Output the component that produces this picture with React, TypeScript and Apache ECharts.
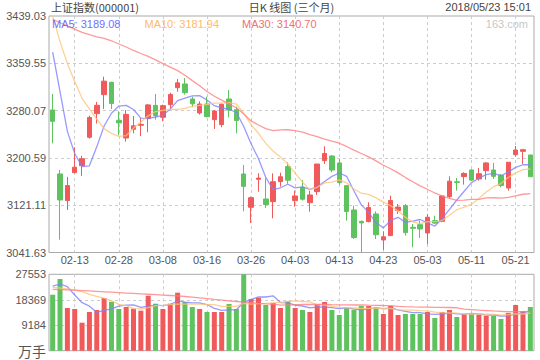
import React, { useEffect, useRef } from "react";
import * as echarts from "echarts";

const dates = [
  "02-08","02-09","02-12","02-13","02-14","02-22","02-23","02-26","02-27","02-28",
  "03-01","03-02","03-05","03-06","03-07","03-08","03-09","03-12","03-13","03-14","03-15","03-16","03-19","03-20","03-21","03-22","03-23","03-26","03-27","03-28","03-29","03-30",
  "04-02","04-03","04-04","04-09","04-10","04-11","04-12","04-13","04-16","04-17","04-18","04-19","04-20","04-23","04-24","04-25","04-26","04-27",
  "05-02","05-03","05-04","05-07","05-08","05-09","05-10","05-11","05-14","05-15","05-16","05-17","05-18","05-21","05-22","05-23",
];

const opens = [
  3281.1,3173.6,3128.8,3175.8,3187.6,3235.2,3275.0,3306.9,3327.6,3263.8,
  3234.1,3248.6,3255.4,3266.6,3288.9,3268.8,3290.1,3318.6,3324.8,3299.6,3276.1,3291.2,3264.9,3256.5,3299.6,3281.7,3173.6,3117.6,3164.6,3131.6,3127.1,3160.7,
  3186.0,3128.8,3151.2,3125.4,3143.9,3196.0,3203.8,3192.1,3154.0,3113.1,3094.0,3093.5,3106.4,3062.7,3070.0,3112.0,3120.4,3084.0,
  3088.4,3074.5,3095.2,3094.0,3135.5,3160.5,3169.1,3180.3,3165.2,3179.2,3180.3,3171.3,3150.0,3206.0,3211.6,3205.5,
];
const closes = [
  3262.05,3129.85,3154.13,3184.96,3199.16,3268.56,3289.02,3329.57,3292.07,3259.41,
  3273.76,3254.53,3256.93,3289.64,3271.67,3288.41,3307.17,3326.70,3310.24,3291.38,3291.11,3269.88,3279.25,3290.64,3280.95,3263.48,3152.76,3133.72,3166.65,3122.29,3160.53,3168.90,
  3163.18,3136.63,3131.11,3138.29,3190.32,3208.08,3180.16,3159.05,3110.65,3066.80,3091.40,3117.38,3071.54,3068.01,3128.93,3117.97,3075.03,3082.23,
  3081.18,3100.86,3091.03,3136.65,3161.50,3159.15,3174.41,3163.26,3174.03,3192.12,3169.57,3154.28,3193.30,3213.84,3214.35,3168.96,
];
const lows = [
  3225.0,3063.3,3113.1,3175.0,3170.5,3233.0,3258.2,3282.8,3282.8,3238.5,
  3227.9,3241.9,3237.4,3243.6,3264.9,3262.1,3281.1,3311.9,3306.9,3285.6,3273.3,3268.8,3249.2,3252.0,3268.8,3241.9,3110.9,3091.3,3143.9,3116.5,3099.1,3152.3,
  3157.0,3118.7,3128.8,3110.3,3138.3,3190.4,3176.4,3155.6,3095.2,3064.3,3041.63,3092.4,3064.3,3045.9,3070.0,3106.4,3069.9,3050.4,
  3066.0,3056.0,3089.6,3092.4,3133.3,3145.6,3155.7,3162.4,3162.4,3164.0,3165.2,3151.2,3145.6,3202.7,3190.4,3168.96,
];
const highs = [
  3308.0,3180.3,3168.6,3218.4,3204.0,3271.6,3294.6,3337.1,3328.5,3278.9,
  3281.1,3271.0,3267.1,3291.2,3308.0,3290.1,3310.2,3333.2,3334.9,3303.5,3295.7,3303.5,3281.1,3292.3,3314.7,3286.7,3188.7,3135.5,3174.7,3166.3,3174.7,3175.8,
  3193.0,3145.6,3163.5,3145.6,3190.4,3220.1,3205.5,3198.8,3154.0,3120.4,3095.2,3126.0,3110.9,3077.3,3137.2,3123.2,3123.2,3089.6,
  3095.2,3106.4,3103.6,3138.3,3169.7,3166.9,3176.4,3181.4,3183.7,3193.2,3192.1,3173.6,3193.3,3220.6,3215.6,3205.5,
];

const ma5 = [
  3378.31,3311.86,3245.19,3208.05,3186.03,3187.33,3219.17,3254.25,3275.68,3287.73,
  3288.77,3281.87,3267.34,3266.85,3269.31,3272.24,3282.76,3296.72,3300.84,3304.78,3305.32,3297.86,3288.37,3284.45,3282.37,3276.84,3253.42,3224.31,3199.51,3167.78,3147.19,3150.42,
  3156.31,3150.31,3152.07,3147.62,3151.91,3160.89,3169.59,3175.18,3169.65,3144.95,3121.61,3109.06,3091.55,3083.03,3095.45,3100.77,3092.30,3094.43,
  3097.07,3091.45,3086.07,3098.39,3114.24,3129.84,3144.55,3158.99,3166.47,3172.59,3174.68,3170.65,3176.66,3184.62,3189.07,3189.08,
];
const ma10 = [
  3439.03,3396.02,3359.13,3328.83,3300.66,3282.82,3265.51,3249.72,3241.86,3236.88,
  3238.05,3250.52,3260.80,3271.27,3278.52,3280.50,3282.32,3282.03,3283.85,3287.04,3288.78,3290.31,3292.55,3292.65,3293.57,3291.08,3275.64,3256.34,3241.98,3225.07,3212.02,3201.92,
  3190.31,3174.91,3159.93,3147.41,3151.16,3158.60,3159.95,3163.63,3158.64,3148.43,3141.25,3139.32,3133.37,3126.34,3120.20,3111.19,3100.68,3092.99,
  3090.05,3093.45,3093.42,3095.34,3104.34,3113.45,3118.00,3122.53,3132.43,3143.42,3152.26,3157.50,3167.73,3175.45,3180.73,3181.94,
];
const ma30 = [
  3433.21,3427.66,3422.56,3417.12,3411.45,3407.55,3404.12,3401.46,3397.40,3391.98,
  3386.93,3381.12,3376.00,3371.10,3365.33,3359.12,3353.10,3347.28,3339.40,3330.47,3321.89,3312.28,3304.16,3297.58,3290.92,3284.80,3274.49,3262.70,3255.90,3249.66,3246.28,3247.58,
  3247.88,3246.27,3244.00,3239.66,3236.37,3232.32,3228.59,3225.25,3219.81,3213.55,3208.03,3202.29,3195.62,3188.28,3182.33,3175.38,3167.54,3160.56,
  3153.57,3147.93,3141.66,3136.53,3132.54,3129.07,3129.79,3130.77,3131.02,3133.35,3133.65,3133.16,3134.16,3136.74,3139.51,3140.70,
];

const volumes = [
  20190,25850,15400,15040,10100,13960,14680,19000,17670,15040,
  15760,15160,14440,19830,16950,15040,16950,20920,17560,15760,15040,13960,13960,13960,16840,15040,27553,18640,19110,16480,17200,15400,
  17920,15400,14680,13960,16840,17560,14680,12870,15400,14680,16120,16120,15400,13230,16120,12870,13230,13230,
  13230,13960,11790,13960,14680,12150,13230,13230,12870,12510,12510,11430,13590,16480,14320,15760,
];
const volMa5 = [
  23330,24050,23080,20090,17316,16070,13836,14556,15082,16070,
  16430,16526,15614,16046,16428,16284,16642,17938,17484,17246,17246,16648,15256,14536,14752,14752,17471,18407,19437,19365,19797,17366,
  17222,16480,16120,15472,15760,15688,15544,15182,15470,15038,14750,15038,15544,15110,15398,14748,14170,13736,
  13736,13304,13088,13234,13524,13308,13162,13450,13232,12798,12870,12514,12586,13308,13670,14320,
];
const volMa10 = [
  22860,22610,22250,21890,21280,20340,19600,19000,18100,16693,
  16250,15181,15085,15564,16249,16357,16584,16776,16765,16837,16765,16645,16597,16010,15999,15999,17059,16831,16986,17058,17274,17418,
  17814,17958,17742,17634,16563,16455,16012,15651,15471,15399,15219,15291,15363,15290,15218,14749,14604,14640,
  14423,14351,13918,13702,13630,13522,13233,13269,13233,13161,13089,12836,13016,13268,13232,13593,
];
const volMa30 = [
  22140,22050,21950,21850,21700,21550,21400,21250,21100,20950,
  20800,20650,20500,20350,20200,20050,19900,19750,19550,19300,19050,18800,18500,18250,18000,17750,17550,17350,17100,16863,16763,16415,
  16499,16511,16663,16663,16735,16687,16588,16515,16503,16487,16543,16420,16368,16308,16280,16012,15867,15783,
  15723,15723,15650,15650,15578,15482,15005,14824,14616,14484,14328,14195,14051,14087,14075,14135,
];

const priceMin = 3041.63;
const priceMax = 3439.03;
const priceStep = 79.48;
const volMax = 27553;

const titleLeft = "上证指数(000001)";
const titleMid = "日K 线图 (三个月)";
const titleRight = "2018/05/23 15:01";
const legendMa5 = "MA5: 3189.08";
const legendMa10 = "MA10: 3181.94";
const legendMa30 = "MA30: 3140.70";
const siteMark = "163.com";

const UP = "#f15a5a";
const DOWN = "#5ec25e";
const C5 = "#7f7fff";
const C10 = "#ffc47a";
const C30 = "#ff8080";
const FONT = "'Liberation Sans', 'Noto Sans CJK SC', sans-serif";
const CJK = "'Noto Sans CJK SC', 'Liberation Sans', sans-serif";

const labelInterval = (idx: number) => idx % 6 === 3;

export default function App() {
  const ref = useRef<HTMLDivElement>(null);
  useEffect(() => {
    if (!ref.current) return;
    const chart = echarts.init(ref.current, undefined, { renderer: "svg" });
    const shift = (v: number) => +(v - priceMin).toFixed(2);
    const candle = dates.map((_, i) => [shift(opens[i]), shift(closes[i]), shift(lows[i]), shift(highs[i])]);
    const vols = volumes.map((v, i) => ({
      value: v,
      itemStyle: { color: closes[i] >= opens[i] ? UP : DOWN },
    }));
    const dashed = { color: "#cccccc", type: [3, 3] as any, width: 1 };
    const maLine = (color: string) => ({ color, width: 1.3, opacity: 0.8 });
    const textEl = (text: string, x: number, y: number, fill: string, align: string, size = 11, family = FONT) => ({
      type: "text",
      x,
      y,
      silent: true,
      z: 100,
      style: {
        text,
        fill,
        fontSize: size,
        fontFamily: family,
        align,
        verticalAlign: "middle",
        textAlign: align,
        textVerticalAlign: "middle",
      },
    });
    chart.setOption({
      animation: false,
      backgroundColor: "#ffffff",
      grid: [
        { left: 49, right: 6, top: 16, height: 236.5, show: true, borderColor: "#aaaaaa", borderWidth: 1 },
        { left: 49, right: 6, top: 274.3, height: 76.4, show: true, borderColor: "#aaaaaa", borderWidth: 1 },
      ],
      xAxis: [
        {
          type: "category",
          gridIndex: 0,
          data: dates,
          boundaryGap: true,
          axisLine: { show: false },
          axisTick: { show: false },
          axisLabel: { interval: labelInterval, color: "#555", fontSize: 11, fontFamily: FONT, margin: 2 },
          splitLine: { show: true, interval: labelInterval, alignWithLabel: true, lineStyle: dashed },
        },
        {
          type: "category",
          gridIndex: 1,
          data: dates,
          boundaryGap: true,
          axisLine: { show: false },
          axisTick: { show: false },
          axisLabel: { show: false },
          splitLine: { show: true, interval: labelInterval, alignWithLabel: true, lineStyle: dashed },
        },
      ],
      yAxis: [
        {
          type: "value",
          gridIndex: 0,
          min: 0,
          max: +(priceMax - priceMin).toFixed(2),
          interval: priceStep,
          axisLine: { show: false },
          axisTick: { show: false },
          axisLabel: {
            color: "#555",
            fontSize: 11,
            fontFamily: FONT,
            margin: 3,
            formatter: (v: number) => (v + priceMin).toFixed(2),
          },
          splitLine: { show: true, showMinLine: false, showMaxLine: false, lineStyle: dashed },
        },
        {
          type: "value",
          gridIndex: 1,
          min: 0,
          max: volMax,
          interval: volMax / 3,
          axisLine: { show: false },
          axisTick: { show: false },
          axisLabel: {
            color: "#555",
            fontSize: 11,
            fontFamily: FONT,
            margin: 3,
            formatter: (v: number) => (v === 0 ? "{u|万手}" : String(Math.round(v))),
            rich: { u: { fontSize: 14, fontFamily: CJK, color: "#555" } },
          },
          splitLine: { show: true, showMinLine: false, showMaxLine: false, lineStyle: dashed },
        },
      ],
      series: [
        {
          type: "candlestick",
          xAxisIndex: 0,
          yAxisIndex: 0,
          data: candle,
          barWidth: 5,
          itemStyle: { color: UP, color0: DOWN, borderColor: UP, borderColor0: DOWN, borderWidth: 1 },
        },
        { type: "line", xAxisIndex: 0, yAxisIndex: 0, data: ma5.map(shift), showSymbol: false, symbol: "none", lineStyle: maLine(C5) },
        { type: "line", xAxisIndex: 0, yAxisIndex: 0, data: ma10.map(shift), showSymbol: false, symbol: "none", lineStyle: maLine(C10) },
        { type: "line", xAxisIndex: 0, yAxisIndex: 0, data: ma30.map(shift), showSymbol: false, symbol: "none", lineStyle: maLine(C30) },
        { type: "bar", xAxisIndex: 1, yAxisIndex: 1, data: vols, barWidth: 5 },
        { type: "line", xAxisIndex: 1, yAxisIndex: 1, data: volMa5, showSymbol: false, symbol: "none", lineStyle: maLine(C5) },
        { type: "line", xAxisIndex: 1, yAxisIndex: 1, data: volMa10, showSymbol: false, symbol: "none", lineStyle: maLine(C10) },
        { type: "line", xAxisIndex: 1, yAxisIndex: 1, data: volMa30, showSymbol: false, symbol: "none", lineStyle: maLine(C30) },
      ],
      graphic: [
        textEl(titleLeft, 51, 7, "#444", "left", 11, CJK),
        textEl(titleMid, 291.5, 7, "#444", "center", 11, CJK),
        textEl(titleRight, 531, 7, "#444", "right"),
        textEl(legendMa5, 52, 23.5, "#7070ff", "left"),
        textEl(legendMa10, 144.5, 23.5, "#ffbb66", "left"),
        textEl(legendMa30, 242, 23.5, "#f07070", "left"),
        textEl(siteMark, 528, 23.5, "#c8c8c8", "right"),
      ],
    });
    return () => chart.dispose();
  }, []);
  return <div ref={ref} style={{ position: "fixed", left: 0, top: 0, width: 540, height: 360 }} />;
}
